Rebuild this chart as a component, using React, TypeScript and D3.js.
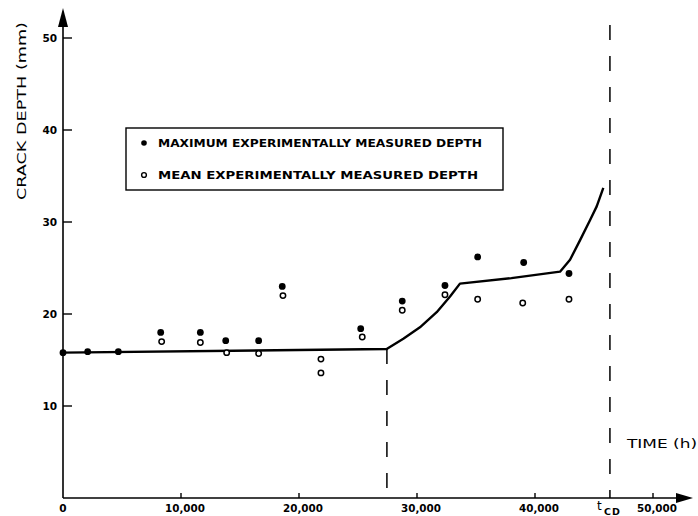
import React from 'react';
import * as d3 from 'd3';

// readings taken off the figure (time in h, depth in mm)
const maxTime = [0, 2090, 4690, 8280, 11640, 13790, 16580, 18580, 25230, 28750, 32370, 35140, 39040, 42880];
const maxDepth = [15.8, 15.9, 15.9, 18.0, 18.0, 17.1, 17.1, 23.0, 18.4, 21.4, 23.1, 26.2, 25.6, 24.4];

const meanTime = [8360, 11640, 13870, 16580, 18640, 21860, 21860, 25360, 28750, 32370, 35140, 38960, 42880];
const meanDepth = [17.0, 16.9, 15.8, 15.7, 22.0, 15.1, 13.6, 17.5, 20.4, 22.1, 21.6, 21.2, 21.6];

const curveTime = [0, 27430, 28840, 30250, 31670, 32800, 33640, 38000, 42120, 42970, 43810, 44660, 45230, 45790];
const curveDepth = [15.8, 16.2, 17.3, 18.55, 20.2, 21.9, 23.3, 23.9, 24.6, 25.9, 28.0, 30.2, 31.7, 33.7];

const xTicks = [10000, 20000, 30000, 40000, 50000];
const yTicks = [10, 20, 30, 40, 50];
const kneeTime = 27450;
const tCD = 46350;

const legendLabels = ['MAXIMUM EXPERIMENTALLY MEASURED DEPTH', 'MEAN EXPERIMENTALLY MEASURED DEPTH'];

const font = "'DejaVu Sans', sans-serif";

export default function App() {
  const width = 698;
  const height = 516;
  const x = d3.scaleLinear().domain([0, 50000]).range([63, 653]);
  const y = d3.scaleLinear().domain([0, 50]).range([498, 38]);

  const line = d3.line<number>()
    .x((d, i) => x(curveTime[i]))
    .y(d => y(d))
    .curve(d3.curveLinear);

  const fmt = d3.format(',');

  return (
    <svg width={width} height={height} style={{ position: 'absolute', left: 0, top: 0, background: '#fff' }}>
      {/* axes */}
      <line x1={x(0)} y1={y(0)} x2={x(0)} y2={20} stroke="#000" strokeWidth={1.6} />
      <path d={`M${x(0)},8 L${x(0) - 5},27 L${x(0) + 5},27 Z`} fill="#000" />
      <line x1={x(0)} y1={y(0)} x2={682} y2={y(0)} stroke="#000" strokeWidth={1.6} />
      <path d={`M693,${y(0)} L676,${y(0) - 5} L676,${y(0) + 5} Z`} fill="#000" />

      {yTicks.map(t => (
        <g key={t}>
          <line x1={x(0)} x2={x(0) + 9} y1={y(t)} y2={y(t)} stroke="#000" strokeWidth={1.4} />
          <text x={57} y={y(t) + 4} textAnchor="end" fill="#000" fontFamily={font} fontWeight="bold" fontSize={10.5}>{t}</text>
        </g>
      ))}
      <text x={x(0)} y={512} textAnchor="middle" fill="#000" fontFamily={font} fontWeight="bold" fontSize={10.5}>0</text>
      {xTicks.map(t => (
        <g key={t}>
          <line x1={x(t)} x2={x(t)} y1={y(0)} y2={y(0) - 5} stroke="#000" strokeWidth={1.4} />
          <text x={x(t) + 4} y={512} textAnchor="middle" fill="#000" fontFamily={font} fontWeight="bold" fontSize={10.5}
            textLength={40} lengthAdjust="spacingAndGlyphs">{fmt(t)}</text>
        </g>
      ))}

      {/* t_CD label */}
      <text x={597} y={510} fill="#000" fontFamily={font} fontSize={12}>t</text>
      <text x={604} y={515} fill="#000" fontFamily={font} fontWeight="bold" fontSize={9.5} letterSpacing={1}>CD</text>

      <text x={627} y={448} fill="#000" fontFamily={font} fontSize={11.5} textLength={70} lengthAdjust="spacingAndGlyphs">TIME (h)</text>
      <text transform="translate(26,111) rotate(-90)" textAnchor="middle" fill="#000" fontFamily={font} fontSize={11.5}
        textLength={178} lengthAdjust="spacingAndGlyphs">CRACK DEPTH (mm)</text>

      {/* dashed verticals */}
      <line x1={x(kneeTime)} x2={x(kneeTime)} y1={y(16.2)} y2={y(0)} stroke="#000" strokeWidth={1.5} strokeDasharray="15,16" />
      <line x1={x(tCD)} x2={x(tCD)} y1={25} y2={y(0)} stroke="#000" strokeWidth={1.5} strokeDasharray="15,16" />

      {/* fitted curve */}
      <path d={line(curveDepth) || ''} fill="none" stroke="#000" strokeWidth={2.4} strokeLinejoin="round" />

      {/* measured points */}
      {meanDepth.map((v, i) => (
        <circle key={'m' + i} cx={x(meanTime[i])} cy={y(v)} r={2.7} fill="#fff" stroke="#000" strokeWidth={1.5} />
      ))}
      {maxDepth.map((v, i) => (
        <circle key={'x' + i} cx={x(maxTime[i])} cy={y(v)} r={3.4} fill="#000" />
      ))}

      {/* legend */}
      <rect x={126} y={128} width={377} height={62} fill="#fff" stroke="#000" strokeWidth={1.4} />
      <circle cx={144} cy={143} r={2.8} fill="#000" />
      <text x={158} y={147} fill="#000" fontFamily={font} fontWeight="bold" fontSize={10.5} textLength={324} lengthAdjust="spacingAndGlyphs">{legendLabels[0]}</text>
      <circle cx={144} cy={175} r={2.4} fill="#fff" stroke="#000" strokeWidth={1.4} />
      <text x={158} y={179} fill="#000" fontFamily={font} fontWeight="bold" fontSize={10.5} textLength={320} lengthAdjust="spacingAndGlyphs">{legendLabels[1]}</text>
    </svg>
  );
}
